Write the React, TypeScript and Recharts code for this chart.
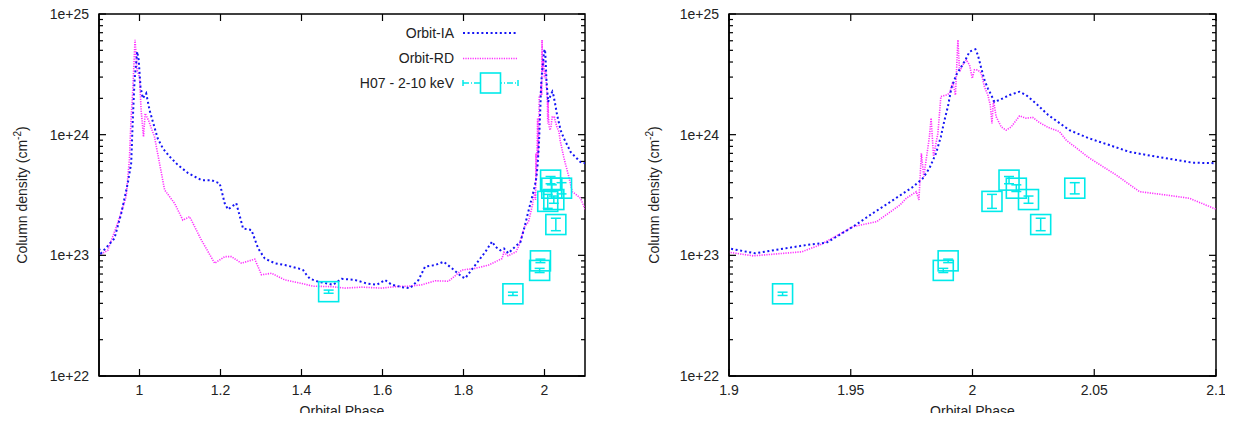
import { ComposedChart, Line, Scatter, ErrorBar, XAxis, YAxis, Label, ReferenceArea } from 'recharts';

// [orbital phase, column density]
const orbitIA: [number, number][] = [
  [0.9, 1.14e23], [0.905, 1.04e23], [0.92, 1.18e23], [0.938, 1.38e23], [0.955, 2.23e23],
  [0.971, 3.95e23], [0.9795, 5.8e23], [0.9834, 1.32e24], [0.9876, 2.75e24], [0.9943, 4.88e24],
  [0.998, 4.16e24], [1.0025, 2.5e24], [1.008, 2.0e24], [1.0165, 2.2e24], [1.0248, 1.6e24],
  [1.033, 1.28e24], [1.045, 9.3e23], [1.0577, 7.7e23], [1.074, 6.6e23], [1.095, 5.6e23],
  [1.12, 4.8e23], [1.153, 4.2e23], [1.177, 4.2e23], [1.198, 3.95e23], [1.2104, 2.7e23],
  [1.2186, 2.4e23], [1.239, 2.7e23], [1.2557, 1.67e23], [1.2764, 1.62e23], [1.293, 1.14e23],
  [1.3094, 9.4e22], [1.334, 8.6e22], [1.359, 8.3e22], [1.392, 7.8e22], [1.404, 7.55e22],
  [1.4125, 6.9e22], [1.4208, 6.4e22], [1.4413, 6.05e22], [1.478, 5.7e22], [1.499, 6.4e22],
  [1.532, 6.25e22], [1.561, 5.85e22], [1.586, 5.7e22], [1.606, 6.25e22], [1.623, 5.7e22],
  [1.648, 5.45e22], [1.668, 5.35e22], [1.689, 6.25e22], [1.705, 8.05e22], [1.73, 8.3e22],
  [1.751, 8.85e22], [1.7715, 7.8e22], [1.796, 6.65e22], [1.804, 6.45e22], [1.829, 8.3e22],
  [1.854, 1.07e23], [1.8705, 1.3e23], [1.8787, 1.18e23], [1.891, 1.1e23], [1.9, 1.14e23],
  [1.9107, 1.04e23], [1.932, 1.22e23], [1.94, 1.27e23], [1.951, 1.73e23], [1.959, 2.23e23],
  [1.9675, 2.88e23], [1.9757, 3.71e23], [1.9796, 4.35e23], [1.9823, 5.26e23], [1.985, 7.0e23],
  [1.987, 9.6e23], [1.9885, 1.32e24], [1.9899, 1.71e24], [1.9913, 2.42e24], [1.9933, 3.12e24],
  [1.9954, 3.66e24], [1.9971, 4.16e24], [1.9988, 4.88e24], [2.0012, 5.1e24], [2.0022, 4.57e24],
  [2.0036, 3.55e24], [2.0049, 2.84e24], [2.0063, 2.42e24], [2.0077, 2.13e24], [2.009, 1.87e24],
  [2.0111, 1.94e24], [2.0152, 2.13e24], [2.0193, 2.27e24], [2.022, 2.13e24], [2.026, 1.82e24],
  [2.031, 1.46e24], [2.0398, 1.09e24], [2.048, 9.3e23], [2.0562, 8.2e23], [2.0644, 7.2e23],
  [2.074, 6.65e23], [2.0821, 6.25e23], [2.0903, 5.86e23], [2.1, 5.8e23],
];

const orbitRD: [number, number][] = [
  [0.9, 1.0e23], [0.9215, 1.1e23], [0.946, 1.84e23], [0.967, 3.06e23], [0.975, 6.2e23],
  [0.979, 1.32e24], [0.983, 2.2e24], [0.989, 6.1e24], [0.994, 3.44e24], [1.0, 3.0e24],
  [1.004, 1.6e24], [1.0099, 9.6e23], [1.014, 1.5e24], [1.022, 1.32e24], [1.037, 9.6e23],
  [1.062, 3.48e23], [1.0866, 2.7e23], [1.107, 1.96e23], [1.1238, 2.09e23], [1.1527, 1.34e23],
  [1.1856, 8.6e22], [1.2104, 9.75e22], [1.227, 9.75e22], [1.2517, 8.6e22], [1.2847, 9.3e22],
  [1.3012, 6.9e22], [1.326, 7.1e22], [1.359, 6.25e22], [1.4, 5.85e22], [1.429, 5.55e22],
  [1.4745, 5.5e22], [1.507, 5.35e22], [1.549, 5.45e22], [1.598, 5.35e22], [1.631, 5.5e22],
  [1.664, 5.55e22], [1.697, 5.7e22], [1.73, 6.15e22], [1.763, 6.1e22], [1.796, 7.55e22],
  [1.829, 7.8e22], [1.862, 8.3e22], [1.895, 9.4e22], [1.9, 1.06e23], [1.91, 9.9e22],
  [1.9299, 1.07e23], [1.9374, 1.22e23], [1.951, 1.73e23], [1.9606, 1.9e23], [1.9702, 2.61e23],
  [1.9728, 2.97e23], [1.9769, 3.37e23], [1.978, 2.88e23], [1.979, 7.0e23], [1.98, 4.49e23],
  [1.9823, 9.6e23], [1.983, 1.37e24], [1.984, 6.6e23], [1.9858, 1.03e24], [1.987, 2.07e24],
  [1.9892, 2.13e24], [1.9906, 2.2e24], [1.9919, 2.75e24], [1.993, 2.13e24], [1.994, 6.1e24],
  [1.9947, 3.33e24], [1.996, 3.78e24], [1.9974, 4.16e24], [1.9988, 3.78e24], [1.9999, 2.93e24],
  [2.0008, 3.44e24], [2.0022, 3.44e24], [2.0036, 3.22e24], [2.0049, 2.5e24], [2.0063, 2.13e24],
  [2.0073, 1.76e24], [2.008, 1.24e24], [2.0086, 1.94e24], [2.0097, 1.41e24], [2.0118, 1.16e24],
  [2.0138, 1.09e24], [2.0159, 1.16e24], [2.0193, 1.43e24], [2.022, 1.37e24], [2.0247, 1.39e24],
  [2.0275, 1.26e24], [2.031, 1.15e24], [2.0357, 1.06e24], [2.0385, 9.0e23], [2.048, 6.4e23],
  [2.059, 4.63e23], [2.0686, 3.37e23], [2.0796, 3.16e23], [2.0891, 2.97e23], [2.1, 2.41e23],
];

const h07Phase = [1.467, 1.922, 1.988, 1.99, 2.008, 2.015, 2.018, 2.023, 2.028, 2.042];
const h07Nh = [5.0e22, 4.8e22, 7.5e22, 9.0e22, 2.8e23, 4.2e23, 3.6e23, 2.9e23, 1.8e23, 3.6e23];
const h07ErrLo = [0.15e22, 0.15e22, 0.3e22, 0.3e22, 0.35e23, 0.28e23, 0.22e23, 0.2e23, 0.2e23, 0.37e23];
const h07ErrHi = [0.15e22, 0.15e22, 0.3e22, 0.3e22, 0.4e23, 0.3e23, 0.24e23, 0.2e23, 0.23e23, 0.4e23];

// major decades plus the minor 2..9 ticks of the log axis
const yTicks = [
  1e22, 2e22, 3e22, 4e22, 5e22, 6e22, 7e22, 8e22, 9e22,
  1e23, 2e23, 3e23, 4e23, 5e23, 6e23, 7e23, 8e23, 9e23,
  1e24, 2e24, 3e24, 4e24, 5e24, 6e24, 7e24, 8e24, 9e24,
  1e25,
];
const leftTicks = [1, 1.2, 1.4, 1.6, 1.8, 2];
const rightTicks = [1.9, 1.95, 2, 2.05, 2.1];

const iaData = orbitIA.map(([phase, nh]) => ({ phase, nh }));
const rdData = orbitRD.map(([phase, nh]) => ({ phase, nh }));
const h07Data = h07Phase.map((phase, i) => ({
  phase,
  nh: h07Nh[i],
  err: [h07ErrLo[i], h07ErrHi[i]],
}));

const BLUE = '#1515f5';
const MAGENTA = '#ff30ff';
const CYAN = '#00eaea';
const INK = '#000000';
const FONT = "'Liberation Sans', Arial, sans-serif";
const TOP = 14;
const BOTTOM = 376;

const isMajor = (v: number) => Math.abs(Math.log10(v) - Math.round(Math.log10(v))) < 1e-6;

const Square = (p: any) => (
  <rect x={p.cx - 10} y={p.cy - 10} width={20} height={20} fill="none" stroke={CYAN} strokeWidth={1.6} />
);

const makeXTick = () => (props: any) => {
  const { x, y, payload } = props;
  return (
    <g>
      <line x1={x} x2={x} y1={BOTTOM} y2={BOTTOM - 7} stroke={INK} strokeWidth={1.2} />
      <line x1={x} x2={x} y1={TOP} y2={TOP + 7} stroke={INK} strokeWidth={1.2} />
      <text x={x} y={y} dy="0.71em" textAnchor="middle" fontSize={14} fill="#222">
        {payload.value}
      </text>
    </g>
  );
};

const makeYTick = (left: number, right: number) => (props: any) => {
  const { x, y, payload } = props;
  const major = isMajor(payload.value);
  const len = major ? 7 : 4;
  return (
    <g>
      <line x1={left} x2={left + len} y1={y} y2={y} stroke={INK} strokeWidth={1.2} />
      <line x1={right} x2={right - len} y1={y} y2={y} stroke={INK} strokeWidth={1.2} />
      {major && (
        <text x={x} y={y} dy="0.355em" textAnchor="end" fontSize={14} fill="#222">
          {`1e+${Math.round(Math.log10(payload.value))}`}
        </text>
      )}
    </g>
  );
};

const xLabel = (props: any) => {
  const vb = props.viewBox || { x: 0, y: BOTTOM, width: 0 };
  return (
    <text x={vb.x + vb.width / 2} y={vb.y + 40} textAnchor="middle" fontSize={14} fill="#222">
      Orbital Phase
    </text>
  );
};

interface PanelProps {
  width: number;
  yAxisWidth: number;
  right: number;
  xDomain: [number, number];
  xTicks: number[];
}

function Panel({ width, yAxisWidth, right, xDomain, xTicks }: PanelProps) {
  const plotLeft = yAxisWidth;
  const plotRight = width - right;
  return (
    <ComposedChart width={width} height={421} margin={{ top: TOP, right, bottom: 0, left: 0 }}>
      <XAxis
        xAxisId="x"
        dataKey="phase"
        type="number"
        domain={xDomain}
        ticks={xTicks}
        allowDataOverflow
        interval={0}
        height={45}
        tickLine={false}
        tickSize={0}
        tickMargin={9}
        axisLine={{ stroke: INK, strokeWidth: 1.5 }}
        stroke={INK}
        tick={makeXTick()}
      >
        <Label content={xLabel} />
      </XAxis>
      <YAxis
        yAxisId="y"
        type="number"
        scale="log"
        domain={[1e22, 1e25]}
        ticks={yTicks}
        allowDataOverflow
        interval={0}
        width={yAxisWidth}
        tickLine={false}
        tickSize={0}
        tickMargin={10}
        axisLine={{ stroke: INK, strokeWidth: 1.5 }}
        stroke={INK}
        tick={makeYTick(plotLeft, plotRight)}
      />
      <Line
        xAxisId="x"
        yAxisId="y"
        data={rdData}
        dataKey="nh"
        stroke={MAGENTA}
        strokeWidth={1.6}
        strokeDasharray="1.2 1.2"
        dot={false}
        activeDot={false}
        isAnimationActive={false}
      />
      <Line
        xAxisId="x"
        yAxisId="y"
        data={iaData}
        dataKey="nh"
        stroke={BLUE}
        strokeWidth={2}
        strokeDasharray="2 2.6"
        dot={false}
        activeDot={false}
        isAnimationActive={false}
      />
      <Scatter xAxisId="x" yAxisId="y" data={h07Data} dataKey="nh" shape={Square} isAnimationActive={false}>
        <ErrorBar dataKey="err" direction="y" width={5} stroke={CYAN} strokeWidth={1.5} isAnimationActive={false} />
      </Scatter>
      <ReferenceArea
        xAxisId="x"
        yAxisId="y"
        x1={xDomain[0]}
        x2={xDomain[1]}
        y1={1e22}
        y2={1e25}
        fill="#fff"
        fillOpacity={0}
        stroke={INK}
        strokeWidth={1.5}
        ifOverflow="visible"
      />
    </ComposedChart>
  );
}

function YTitle({ cx }: { cx: number }) {
  const cy = (TOP + BOTTOM) / 2;
  return (
    <text transform={`translate(${cx},${cy}) rotate(-90)`} textAnchor="middle" fontSize={14} fill="#222" dy={5}>
      Column density (cm<tspan dy={-6} fontSize={10}>-2</tspan><tspan dy={6}>)</tspan>
    </text>
  );
}

function Legend() {
  return (
    <svg width={600} height={100} style={{ position: 'absolute', left: 0, top: 0, pointerEvents: 'none' }}>
      <text x={454} y={38} textAnchor="end" fontSize={14} fill="#222">Orbit-IA</text>
      <line x1={463} x2={518} y1={33} y2={33} stroke={BLUE} strokeWidth={2} strokeDasharray="2 2.6" />
      <text x={454} y={63} textAnchor="end" fontSize={14} fill="#222">Orbit-RD</text>
      <line x1={463} x2={518} y1={58.5} y2={58.5} stroke={MAGENTA} strokeWidth={1.6} strokeDasharray="1.2 1.2" />
      <text x={454} y={88} textAnchor="end" fontSize={14} fill="#222">H07 - 2-10 keV</text>
      <line x1={463} x2={518} y1={83} y2={83} stroke={CYAN} strokeWidth={1.5} strokeDasharray="6 2 1 2" />
      <line x1={463} x2={463} y1={80} y2={86} stroke={CYAN} strokeWidth={1.5} />
      <line x1={518} x2={518} y1={80} y2={86} stroke={CYAN} strokeWidth={1.5} />
      <rect x={480.5} y={73} width={20} height={20} fill="#fff" stroke={CYAN} strokeWidth={1.6} />
    </svg>
  );
}

function Titles() {
  return (
    <svg width={1233} height={421} style={{ position: 'absolute', left: 0, top: 0, pointerEvents: 'none' }}>
      <YTitle cx={22} />
      <YTitle cx={653.5} />
    </svg>
  );
}

export default function App() {
  return (
    <div style={{ position: 'relative', width: 1233, height: 421, margin: -8, background: '#fff', fontFamily: FONT }}>
      <div style={{ position: 'absolute', left: 0, top: 0 }}>
        <Panel width={600} yAxisWidth={99} right={15} xDomain={[0.9, 2.1]} xTicks={leftTicks} />
      </div>
      <div style={{ position: 'absolute', left: 620, top: 0 }}>
        <Panel width={613} yAxisWidth={109} right={17} xDomain={[1.9, 2.1]} xTicks={rightTicks} />
      </div>
      <Titles />
      <Legend />
    </div>
  );
}
